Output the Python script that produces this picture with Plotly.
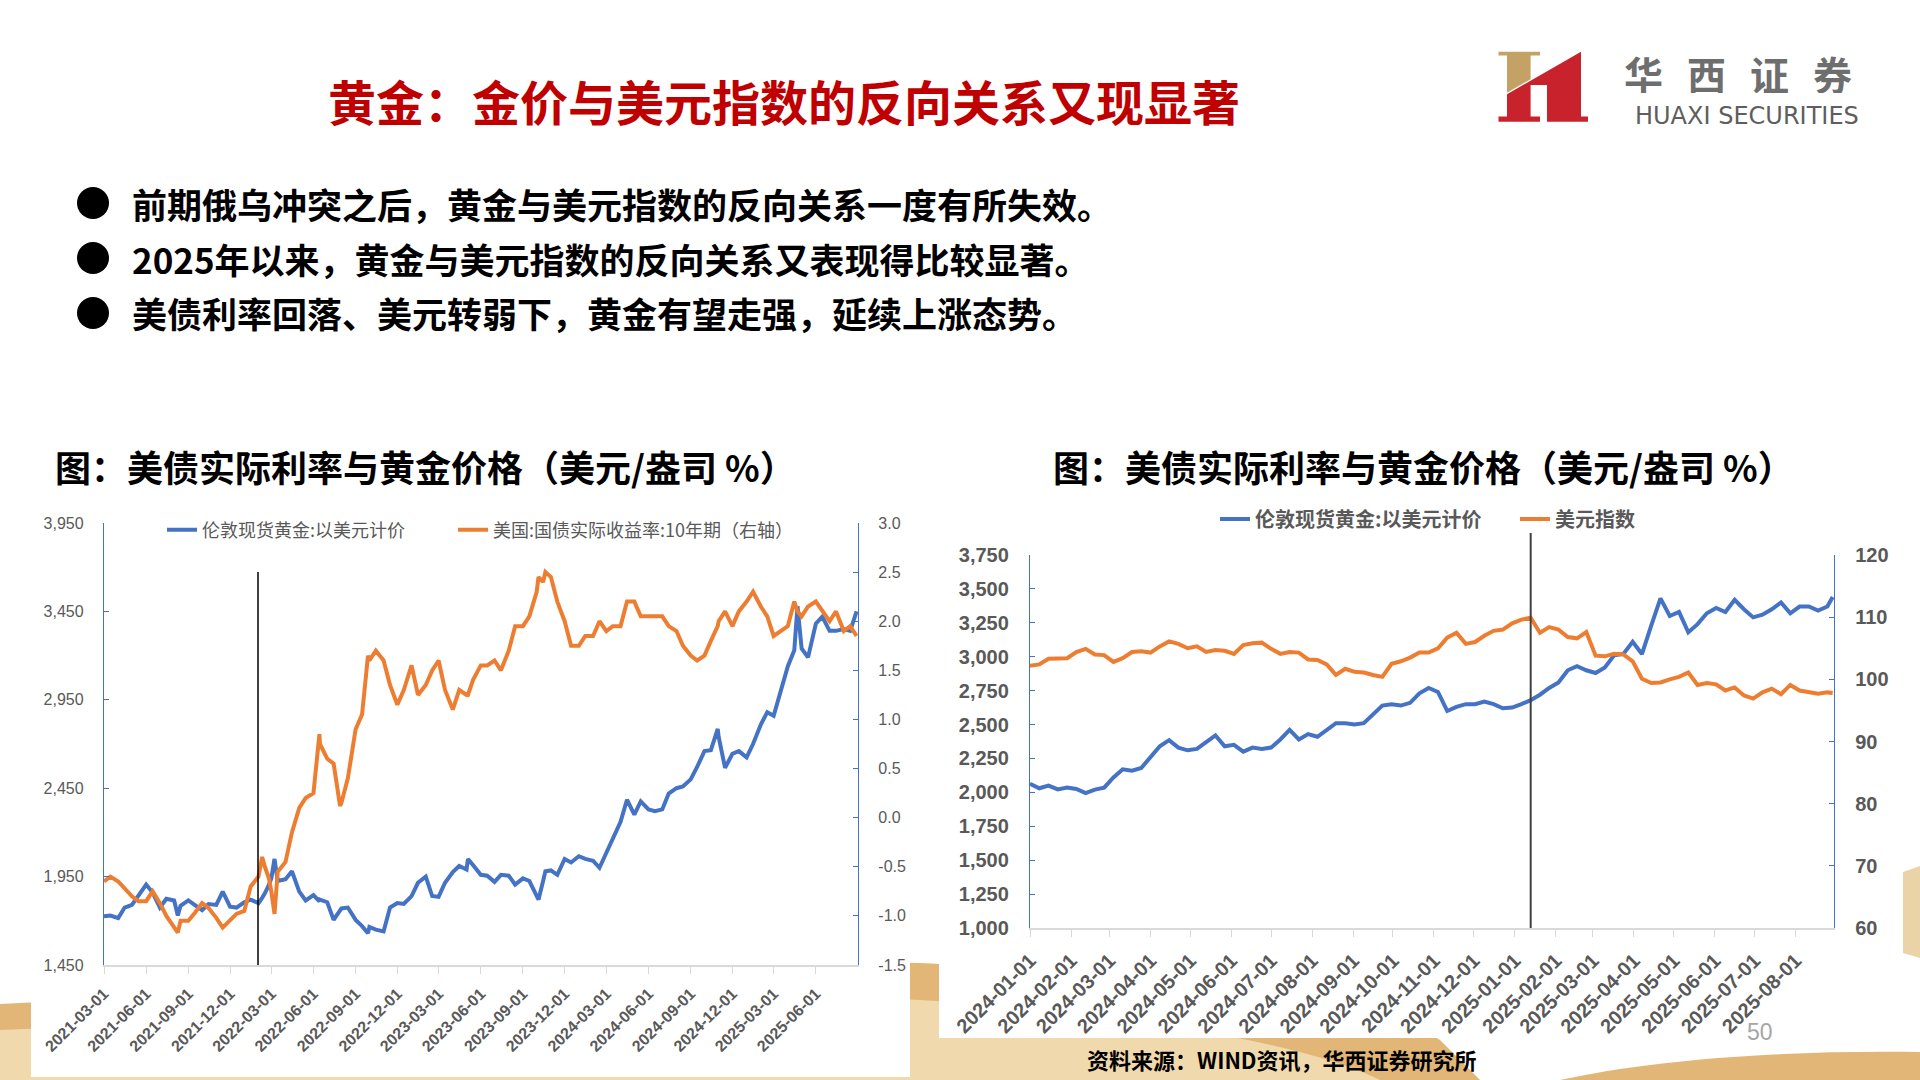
import plotly.graph_objects as go
import pandas as pd

W, H = 1920, 1080


def px(x):
    return x / W


def py(y):
    return 1 - y / H


BLUE = "#4472C4"
ORANGE = "#ED7D31"
GRAY = "#595959"
CJK = "Noto Sans CJK SC"
LAT = "Liberation Sans, Arial, sans-serif"

# ---------------- Left chart data: gold vs 10Y real yield (semi-monthly) ----------------
left_months = [p.strftime("%Y-%m") for p in pd.period_range("2021-03", "2025-08", freq="M")]
gold_left = [
    1725, 1730, 1715, 1775, 1790, 1840, 1905, 1860, 1775, 1825, 1815, 1785,   # 2021-03..08
    1815, 1790, 1760, 1795, 1790, 1865, 1780, 1775,                           # 2021-09..12
    1805, 1820, 1800, 1855, 1940, 1925, 1935, 1980, 1865, 1815, 1845, 1820,   # 2022-01..06
    1805, 1705, 1770, 1775, 1705, 1670, 1665, 1650, 1640, 1775, 1800, 1795,   # 2022-07..12
    1840, 1915, 1950, 1840, 1835, 1915, 1975, 2010, 1990, 2015, 1960, 1955,   # 2023-01..06
    1920, 1960, 1955, 1905, 1940, 1925, 1850, 1925, 1985, 1960, 2050, 2030,   # 2023-07..12
    2065, 2050, 2040, 2000, 2085, 2160, 2260, 2385, 2300, 2375, 2330, 2320,   # 2024-01..06
    2330, 2420, 2450, 2460, 2500, 2570, 2660, 2665, 2740, 2565, 2645, 2660,   # 2024-07..12
    2625, 2700, 2810, 2880, 2860, 2990, 3140, 3230, 3240, 3190, 3380, 3420,   # 2025-01..06
    3340, 3340, 3350, 3340,                                                   # 2025-07..08
]
tips_left = [
    -0.65, -0.60, -0.65, -0.72, -0.80, -0.85, -0.85, -0.75, -0.87, -1.00, -1.12, -1.05,
    -1.05, -0.97, -0.87, -0.92, -1.02, -1.12, -1.05, -0.98,
    -0.95, -0.70, -0.60, -0.50, -0.75, -0.55, -0.45, -0.15, 0.10, 0.20, 0.25, 0.75,
    0.60, 0.55, 0.15, 0.40, 0.90, 1.05, 1.60, 1.70, 1.60, 1.35, 1.15, 1.30,
    1.55, 1.25, 1.35, 1.50, 1.60, 1.30, 1.10, 1.30, 1.25, 1.40, 1.55, 1.55,
    1.60, 1.50, 1.70, 1.95, 1.95, 2.05, 2.30, 2.40, 2.45, 2.20, 2.00, 1.75,
    1.75, 1.85, 1.85, 2.00, 1.90, 1.95, 1.95, 2.20, 2.20, 2.05, 2.05, 2.05,
    2.05, 1.95, 1.90, 1.75, 1.65, 1.60, 1.65, 1.80, 2.00, 2.10, 1.95, 2.10,
    2.20, 2.30, 2.15, 2.05, 1.85, 1.90, 1.95, 2.20, 2.05, 2.15, 2.20, 2.10,
    2.00, 2.10, 1.90, 1.95,
]
left_extra_dates = ["2021-08-09", "2022-02-09", "2022-02-24", "2022-03-08", "2022-06-14", "2022-07-29",
                    "2022-09-28", "2023-05-04", "2023-10-05", "2023-10-20", "2024-10-30",
                    "2025-04-22", "2025-08-29"]
left_extra_gold = [1730, 1830, 1905, 2050, 1810, 1765, 1630, 2050, 1820, 1980, 2785, 3480, 3450]
left_extra_tips = [-1.17, -0.40, -0.62, -0.98, 0.85, 0.12, 1.65, 1.25, 2.45, 2.50, 1.95, 2.10, 1.85]

left_base_dates = []
for m in left_months:
    left_base_dates += [m + "-01", m + "-15"]
ldf = pd.concat([
    pd.DataFrame({"date": left_base_dates, "gold": gold_left, "tips": tips_left}),
    pd.DataFrame({"date": left_extra_dates, "gold": left_extra_gold, "tips": left_extra_tips}),
]).sort_values("date")

left_ticks = [p.strftime("%Y-%m-01") for p in pd.period_range("2021-03", "2025-06", freq="3M")]
left_y_ticks = [1450, 1950, 2450, 2950, 3450, 3950]
left_y2_ticks = [-1.5, -1.0, -0.5, 0.0, 0.5, 1.0, 1.5, 2.0, 2.5, 3.0]
left_event = "2022-01-31"

# ---------------- Right chart data: gold vs dollar index (weekly) ----------------
right_dates = list(pd.date_range("2024-01-01", "2025-08-25", freq="W-MON").strftime("%Y-%m-%d")) + ["2025-08-29"]
gold_right = [
    2063, 2030, 2050, 2022, 2035,   # 2024-01
    2025, 1995, 2020, 2035,         # 02
    2110, 2170, 2160, 2180,         # 03
    2260, 2340, 2385, 2330, 2310,   # 04
    2320, 2370, 2420, 2340,         # 05
    2350, 2300, 2330, 2320,         # 06
    2330, 2390, 2460, 2390, 2430,   # 07
    2410, 2460, 2510, 2510,         # 08
    2500, 2510, 2580, 2640, 2650,   # 09
    2640, 2660, 2730, 2770,         # 10
    2740, 2600, 2630, 2650,         # 11
    2650, 2670, 2650, 2620, 2625,   # 12
    2650, 2680, 2720, 2770,         # 2025-01
    2810, 2900, 2930, 2900,         # 02
    2880, 2920, 3010, 3020, 3110,   # 03
    3020, 3230, 3430, 3300,         # 04
    3330, 3180, 3240, 3320,         # 05
    3360, 3330, 3420, 3350, 3290,   # 06
    3310, 3350, 3400, 3320,         # 07
    3370, 3370, 3340, 3370,         # 08
    3440,
]
dxy_right = [
    102.2, 102.4, 103.3, 103.4, 103.4,
    104.4, 104.9, 104.0, 103.9,
    102.8, 103.4, 104.4, 104.5,
    104.3, 105.3, 106.1, 105.7, 105.0,
    105.3, 104.4, 104.7, 104.6,
    104.1, 105.5, 105.8, 105.9,
    104.9, 104.1, 104.4, 104.3, 103.2,
    103.1, 102.4, 100.7, 101.7,
    101.2, 101.1, 100.7, 100.4, 102.5,
    102.9, 103.5, 104.3, 104.3,
    105.0, 106.7, 107.5, 105.7,
    106.0, 107.0, 107.8, 108.0, 109.0,
    109.6, 109.9, 107.5, 108.4,
    108.0, 106.8, 106.6, 107.6,
    103.8, 103.7, 104.1, 104.0, 102.9,
    100.1, 99.4, 99.5, 100.0,
    100.4, 101.1, 99.1, 99.4,
    99.2, 98.2, 98.7, 97.4, 96.9,
    97.9, 98.5, 97.6, 99.1,
    98.2, 97.9, 97.7, 97.9,
    97.8,
]
right_ticks = [p.strftime("%Y-%m-01") for p in pd.period_range("2024-01", "2025-08", freq="M")]
right_y_ticks = list(range(1000, 3751, 250))
right_y2_ticks = list(range(60, 121, 10))
right_event = "2025-01-13"

# ---------------- Figure ----------------
fig = go.Figure()
fig.add_trace(go.Scatter(x=ldf["date"], y=ldf["gold"], name="伦敦现货黄金:以美元计价", mode="lines",
                         line=dict(color=BLUE, width=4), xaxis="x", yaxis="y", legend="legend"))
fig.add_trace(go.Scatter(x=ldf["date"], y=ldf["tips"], name="美国:国债实际收益率:10年期（右轴）", mode="lines",
                         line=dict(color=ORANGE, width=4), xaxis="x", yaxis="y2", legend="legend3"))
fig.add_trace(go.Scatter(x=right_dates, y=gold_right, name="伦敦现货黄金:以美元计价", mode="lines",
                         line=dict(color=BLUE, width=4), xaxis="x2", yaxis="y3", legend="legend2"))
fig.add_trace(go.Scatter(x=right_dates, y=dxy_right, name="美元指数", mode="lines",
                         line=dict(color=ORANGE, width=4), xaxis="x2", yaxis="y4", legend="legend4"))


def xaxis_style(dom, anchor, rng, ticks, size):
    return dict(domain=dom, anchor=anchor, type="date", range=rng, tickmode="array",
                tickvals=ticks, ticktext=ticks, tickangle=-45, automargin=False,
                tickfont=dict(family=LAT, size=size, color=GRAY, weight="bold"),
                showline=True, linecolor="#D9D9D9", linewidth=2, ticks="outside", ticklen=7,
                tickcolor="#D9D9D9", showgrid=False, zeroline=False, ticklabelstandoff=4)


def yaxis_style(dom, anchor, rng, ticks, text, size, side="left", overlay=None, bold=False):
    d = dict(domain=dom, anchor=anchor, range=rng, tickmode="array", tickvals=ticks, ticktext=text,
             side=side, showline=True, linecolor=BLUE, linewidth=1.3, ticks="inside", ticklen=5,
             tickcolor=BLUE, showgrid=False, zeroline=False, ticklabelstandoff=16, automargin=False,
             tickfont=dict(family=LAT, size=size, color=GRAY, weight="bold" if bold else "normal"))
    if overlay:
        d.pop("domain")
        d["overlaying"] = overlay
    return d


def legend_at(x, y, size, bold=False):
    return dict(x=px(x), y=py(y), xanchor="left", yanchor="middle", orientation="h",
                font=dict(family=CJK, size=size, color=GRAY, weight="bold" if bold else "normal"),
                bgcolor="rgba(0,0,0,0)")


ldom_x = [px(104), px(858)]
ldom_y = [py(965), py(523)]
rdom_x = [px(1030), px(1834)]
rdom_y = [py(928), py(555)]

fig.update_layout(
    width=W, height=H, autosize=False, margin=dict(l=0, r=0, t=0, b=0, pad=0),
    paper_bgcolor="white", plot_bgcolor="rgba(0,0,0,0)", showlegend=True,
    xaxis=xaxis_style(ldom_x, "y", ["2021-03-01", "2025-09-01"], left_ticks, 16),
    yaxis=yaxis_style(ldom_y, "x", [1450, 3950], left_y_ticks, [f"{v:,}" for v in left_y_ticks], 16),
    yaxis2=yaxis_style(ldom_y, "x", [-1.5, 3.0], left_y2_ticks, [f"{v:.1f}" for v in left_y2_ticks], 16,
                       side="right", overlay="y"),
    xaxis2=xaxis_style(rdom_x, "y3", ["2024-01-01", "2025-08-30"], right_ticks, 20),
    yaxis3=yaxis_style(rdom_y, "x2", [1000, 3750], right_y_ticks, [f"{v:,}" for v in right_y_ticks], 20,
                       bold=True),
    yaxis4=yaxis_style(rdom_y, "x2", [60, 120], right_y2_ticks, [str(v) for v in right_y2_ticks], 20,
                       side="right", overlay="y3", bold=True),
    legend=legend_at(162, 530, 18),
    legend3=legend_at(453, 530, 18),
    legend2=legend_at(1215, 519, 20, bold=True),
    legend4=legend_at(1515, 519, 20, bold=True),
)


def path_from(points):
    s = "M " + " L ".join(f"{px(x):.5f},{py(y):.5f}" for x, y in points) + " Z"
    return s


shapes = []
# decorative gold background swirls
shapes.append(dict(type="path", xref="paper", yref="paper", layer="below", line=dict(width=0),
                   fillcolor="#E2B676",
                   path=f"M 0,{py(1004)} C {px(300)},{py(990)} {px(700)},{py(958)} {px(920)},{py(963)} "
                        f"C {px(1100)},{py(972)} {px(1380)},{py(1000)} {px(1440)},{py(1040)} "
                        f"L {px(1480)},{py(1080)} L 0,{py(1080)} Z"))
shapes.append(dict(type="path", xref="paper", yref="paper", layer="below", line=dict(width=0),
                   fillcolor="#F1D9AE",
                   path=f"M 0,{py(1030)} C {px(300)},{py(1020)} {px(700)},{py(990)} {px(920)},{py(1000)} "
                        f"C {px(1100)},{py(1010)} {px(1300)},{py(1040)} {px(1380)},{py(1080)} "
                        f"L 0,{py(1080)} Z"))
shapes.append(dict(type="path", xref="paper", yref="paper", layer="below", line=dict(width=0),
                   fillcolor="#E2B676",
                   path=f"M {px(1560)},{py(1080)} C {px(1650)},{py(1060)} {px(1780)},{py(1050)} "
                        f"{px(1920)},{py(1052)} L 1,{py(1080)} Z"))
shapes.append(dict(type="path", xref="paper", yref="paper", layer="below", line=dict(width=0),
                   fillcolor="#EBD3A8", path=path_from([(1903, 872), (1920, 866), (1920, 958), (1903, 953)])))
# white chart boxes
shapes.append(dict(type="rect", xref="paper", yref="paper", layer="below", line=dict(width=0),
                   fillcolor="white", x0=px(31), x1=px(910), y0=py(1077), y1=py(440)))
shapes.append(dict(type="rect", xref="paper", yref="paper", layer="below", line=dict(width=0),
                   fillcolor="white", x0=px(939), x1=px(1898), y0=py(1038), y1=py(440)))
# bullets
for yc in (203, 258, 313):
    shapes.append(dict(type="circle", xref="paper", yref="paper", line=dict(width=0), fillcolor="black",
                       x0=px(77), x1=px(109), y0=py(yc + 16), y1=py(yc - 16)))
# event lines
shapes.append(dict(type="line", xref="x", yref="paper", x0=left_event, x1=left_event,
                   y0=py(965), y1=py(572), line=dict(color="black", width=1.5)))
shapes.append(dict(type="line", xref="x2", yref="paper", x0=right_event, x1=right_event,
                   y0=py(928), y1=py(533), line=dict(color="#404040", width=2)))
# logo
shapes.append(dict(type="path", xref="paper", yref="paper", line=dict(width=0), fillcolor="#C4A265",
                   path=path_from([(1498.5, 51.7), (1540, 51.7), (1540, 55.5), (1530.6, 55.5), (1530.6, 79.2),
                                   (1507, 92.8), (1507, 55.5), (1498.5, 55.5)])))
shapes.append(dict(type="path", xref="paper", yref="paper", line=dict(width=0), fillcolor="#C8232C",
                   path=path_from([(1507, 94.3), (1581, 51.7), (1581, 116.5), (1588, 116.5), (1588, 121.7),
                                   (1547, 121.7), (1547, 85), (1530.6, 85), (1530.6, 116.5), (1540, 116.5),
                                   (1540, 121.7), (1498.5, 121.7), (1498.5, 116.5), (1507, 116.5)])))

annotations = []


def ann(text, x, y, size, color="black", xanchor="left", family=CJK, weight="normal", height=None):
    a = dict(text=text, x=px(x), y=py(y), xref="paper", yref="paper", xanchor=xanchor,
             yanchor="middle", showarrow=False,
             font=dict(family=family, size=size, color=color, weight=weight))
    if height:
        a["height"] = height
    annotations.append(a)


ann("黄金：金价与美元指数的反向关系又现显著", 784, 100, 48, color="#C00000", xanchor="center", weight="bold")
ann("前期俄乌冲突之后，黄金与美元指数的反向关系一度有所失效。", 130, 203, 35, weight="bold")
ann("2025年以来，黄金与美元指数的反向关系又表现得比较显著。", 130, 258, 35, weight="bold")
ann("美债利率回落、美元转弱下，黄金有望走强，延续上涨态势。", 130, 313, 35, weight="bold")
ann("图：美债实际利率与黄金价格（美元/盎司 %）", 53, 466, 36, weight="bold")
ann("图：美债实际利率与黄金价格（美元/盎司 %）", 1051, 466, 36, weight="bold")
ann("资料来源：WIND资讯，华西证券研究所", 1085, 1059, 22, weight="bold")
ann("50", 1760, 1032, 23, color="#A6A6A6", xanchor="center", family=LAT)
for ch, xc in zip("华西证券", (1643, 1706, 1769, 1832)):
    ann(ch, xc, 73, 39, color="#6E6E6E", xanchor="center", weight="bold", height=40)
ann("HUAXI SECURITIES", 1747, 116, 24, color="#5E5E5E", xanchor="center", family="DejaVu Sans", height=26)

fig.update_layout(shapes=shapes, annotations=annotations)
fig.write_html("out.html", config={"displayModeBar": False},
               post_script="document.body.style.margin='0px';")
